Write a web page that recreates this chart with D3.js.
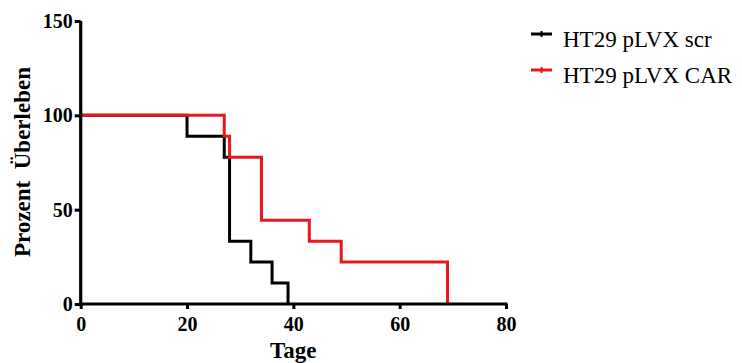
<!DOCTYPE html>
<html><head><meta charset="utf-8">
<script src="https://cdn.jsdelivr.net/npm/d3@7"></script>
</head><body style="margin:0">
<script>
// Kaplan-Meier step data (days, percent survival)
const seriesNames = ["HT29 pLVX scr", "HT29 pLVX CAR"];
const seriesColors = ["#000000", "#e8161d"];
const scrDays = [0, 20, 27, 28, 32, 36, 39];
const scrSurv = [100, 88.9, 77.8, 33.3, 22.2, 11.1, 0];
const carDays = [0, 27, 28, 34, 43, 49, 69];
const carSurv = [100, 88.9, 77.8, 44.4, 33.3, 22.2, 0];
const xTicks = [0, 20, 40, 60, 80];
const yTicks = [0, 50, 100, 150];
const xTitle = "Tage";
const yTitle = "Prozent\u00a0\u00a0Überleben";

const W = 742, H = 363;
const FONT = "Liberation Serif";
const svg = d3.select("body").append("svg").attr("width", W).attr("height", H)
  .style("display", "block");

const x = d3.scaleLinear().domain([0, 80]).range([80.7, 506]);
const y = d3.scaleLinear().domain([0, 150]).range([304, 21]);

// curves
const line = d3.line().x(d => x(d[0])).y(d => y(d[1])).curve(d3.curveStepAfter);
const series = [d3.zip(scrDays, scrSurv), d3.zip(carDays, carSurv)];
series.forEach((s, i) => {
  svg.append("path").datum(s).attr("d", line)
    .attr("fill", "none").attr("stroke", seriesColors[i])
    .attr("stroke-width", 3).attr("stroke-linejoin", "miter");
});

// axes
const xAxis = svg.append("g").attr("transform", `translate(0,${y(0)})`)
  .call(d3.axisBottom(x).tickValues(xTicks).tickSize(5).tickPadding(8).tickSizeOuter(0));
const yAxis = svg.append("g").attr("transform", `translate(${x(0)},0)`)
  .call(d3.axisLeft(y).tickValues(yTicks).tickSize(6).tickPadding(2).tickSizeOuter(0));
[xAxis, yAxis].forEach(g => {
  g.select(".domain").attr("stroke", "#000").attr("stroke-width", 3.2);
  g.selectAll(".tick line").attr("stroke", "#000").attr("stroke-width", 3);
  g.selectAll(".tick text").attr("fill", "#000")
    .attr("font-family", FONT).attr("font-size", 20).attr("font-weight", "bold");
});
xAxis.select(".domain").attr("d", `M${x(0)-1.5},0H${x(80)+1.5}`);
yAxis.select(".domain").attr("d", `M0,${y(150)}V${y(0)+1.5}`);

// titles
svg.append("text").attr("x", x(40)).attr("y", 358).attr("text-anchor", "middle")
  .attr("font-family", FONT).attr("font-weight", "bold").attr("font-size", 23).text(xTitle);
svg.append("text").attr("transform", `translate(30,162) rotate(-90)`)
  .attr("text-anchor", "middle")
  .attr("font-family", FONT).attr("font-weight", "bold").attr("font-size", 23).text(yTitle);

// legend
const legY = [34, 70];
seriesNames.forEach((n, i) => {
  const g = svg.append("g");
  g.append("line").attr("x1", 531).attr("x2", 552).attr("y1", legY[i]).attr("y2", legY[i])
    .attr("stroke", seriesColors[i]).attr("stroke-width", 3);
  g.append("line").attr("x1", 541.5).attr("x2", 541.5).attr("y1", legY[i] - 3).attr("y2", legY[i] + 3)
    .attr("stroke", seriesColors[i]).attr("stroke-width", 2);
  g.append("text").attr("x", 563).attr("y", legY[i] + 13)
    .attr("font-family", FONT).attr("font-size", 23).attr("fill", "#000").text(n);
});
</script>
</body></html>
